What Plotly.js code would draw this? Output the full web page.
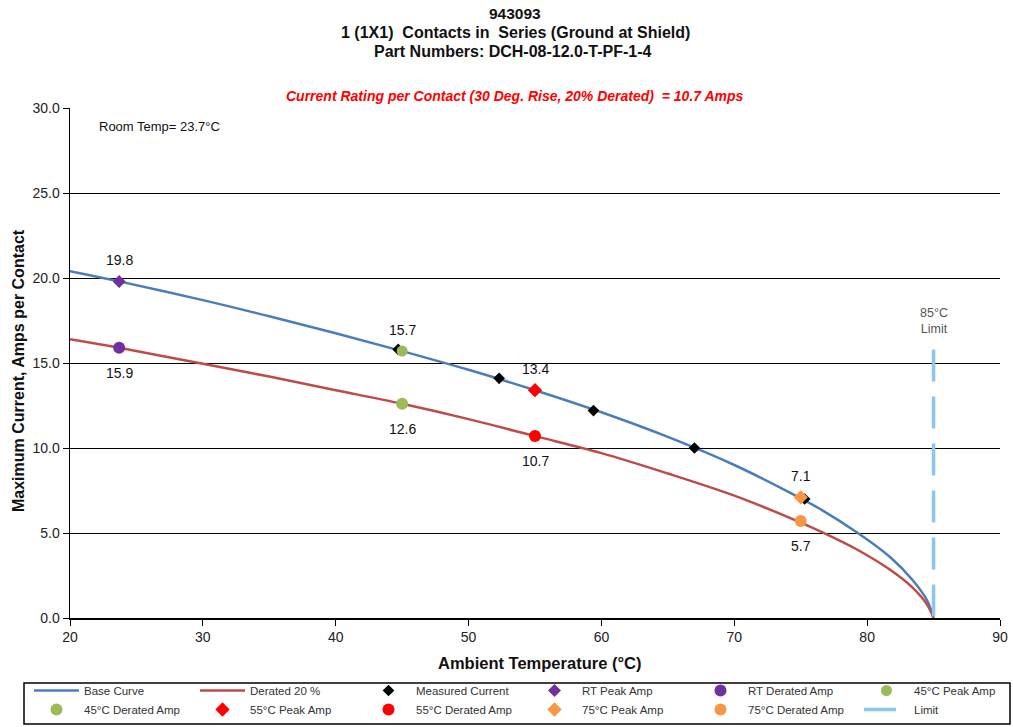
<!DOCTYPE html>
<html><head><meta charset="utf-8">
<script src="https://cdn.plot.ly/plotly-3.0.1.min.js"></script>
<style>body{margin:0;background:#fff}#chart{width:1013px;height:727px}</style>
</head><body><div id="chart"></div>
<script>
// ---- data ----
const curveTemps   = [20, 23.7, 30, 35, 40, 45, 50, 55, 60, 65, 70, 74, 76.6, 79.3, 81.7, 83.4, 84.5, 85];
const baseCurve    = [20.4, 19.8, 18.7, 17.75, 16.75, 15.7, 14.6, 13.4, 12.1, 10.65, 9.0, 7.45, 6.35, 5.0, 3.6, 2.25, 1.05, 0];
const derated20    = [16.4, 15.9, 14.95, 14.2, 13.4, 12.6, 11.7, 10.7, 9.7, 8.5, 7.2, 5.95, 5.05, 4.0, 2.85, 1.8, 0.8, 0];
const measuredT    = [44.7, 52.3, 59.4, 67.0, 75.3];
const measuredAmp  = [15.8, 14.1, 12.2, 10.0, 7.0];
const pointTemps   = [23.7, 45, 55, 75];           // RT, 45°C, 55°C, 75°C
const peakAmps     = [19.8, 15.7, 13.4, 7.1];
const deratedAmps  = [15.9, 12.6, 10.7, 5.7];
const pointNames   = ['RT', '45°C', '55°C', '75°C'];
const limitT       = [85, 85];
const limitAmp     = [15.8, 0];
const xTicks       = [20, 30, 40, 50, 60, 70, 80, 90];
const yTicks       = [0, 5, 10, 15, 20, 25, 30];

// ---- styling ----
const FONT = 'Arial, "Liberation Sans", sans-serif';
const NB = '\u00a0';
const pointColors  = ['#7030A0', '#9BBB59', '#FF0000', '#F79646'];
const peakSymbols  = ['diamond', 'circle', 'diamond', 'diamond'];
const peakSizes    = [10, 11, 11, 11];

const traces = [
  {x: curveTemps, y: baseCurve, name: 'Base Curve', mode: 'lines',
   line: {color: '#4A7EBB', width: 2.5, shape: 'spline', smoothing: 1}},
  {x: curveTemps, y: derated20, name: 'Derated 20 %', mode: 'lines',
   line: {color: '#BE4B48', width: 2.5, shape: 'spline', smoothing: 1}},
  {x: measuredT, y: measuredAmp, name: 'Measured Current', mode: 'markers',
   marker: {symbol: 'diamond', size: 9, color: '#000'}}
];
pointTemps.forEach((t, i) => {
  traces.push({x: [t], y: [peakAmps[i]], name: pointNames[i] + ' Peak Amp', mode: 'markers',
    marker: {symbol: peakSymbols[i], size: peakSizes[i], color: pointColors[i]}});
  traces.push({x: [t], y: [deratedAmps[i]], name: pointNames[i] + ' Derated Amp', mode: 'markers',
    marker: {symbol: 'circle', size: 12, color: pointColors[i]}});
});
traces.push({x: limitT, y: limitAmp, name: 'Limit', mode: 'lines',
  line: {color: '#8EC4F4', width: 3.5, dash: '32px,15px'}});

const annotations = [];
pointTemps.forEach((t, i) => {
  annotations.push({x: t, y: peakAmps[i], text: peakAmps[i].toFixed(1), showarrow: false,
    xanchor: 'center', yshift: 21, font: {size: 14, color: '#111', family: FONT}});
  annotations.push({x: t, y: deratedAmps[i], text: deratedAmps[i].toFixed(1), showarrow: false,
    xanchor: 'center', yshift: -25, font: {size: 14, color: '#111', family: FONT}});
});
const P = (px) => (px - 70) / 930, Q = (py) => (618 - py) / 510;
const paperNote = (px, py, text, size, color, extra) => Object.assign({xref: 'paper', yref: 'paper',
  x: P(px), y: Q(py), xanchor: 'center', yanchor: 'middle', text: text, showarrow: false,
  font: {size: size, color: color, family: FONT}}, extra || {});
annotations.push(
  {x: 85, y: 17.5, xanchor: 'center', text: '85°C<br>Limit', showarrow: false, font: {size: 12.5, color: '#555', family: FONT}},
  {x: 22.0, y: 28.9, xanchor: 'left', text: 'Room Temp= 23.7°C', showarrow: false, font: {size: 13, color: '#111', family: FONT}},
  paperNote(515, 13, '<b>943093</b>', 15.5, '#111'),
  paperNote(515, 32, '<b>1 (1X1) ' + NB + 'Contacts in ' + NB + 'Series (Ground at Shield)</b>', 16, '#111'),
  paperNote(513, 52, '<b>Part Numbers: DCH-08-12.0-T-PF-1-4</b>', 16, '#111'),
  paperNote(515, 96, '<b><i>Current Rating per Contact (30 Deg. Rise, 20% Derated) ' + NB + '= 10.7 Amps</i></b>', 14, '#FF0000'),
  paperNote(539, 663, '<b>Ambient Temperature (°C)</b>', 16.5, '#111'),
  paperNote(18, 371, '<b>Maximum Current, Amps per Contact</b>', 16, '#111', {textangle: -90})
);

const layout = {
  width: 1013, height: 727,
  margin: {l: 70, r: 13, t: 108, b: 109, autoexpand: false},
  paper_bgcolor: '#fff', plot_bgcolor: '#fff',
  font: {family: FONT, size: 13, color: '#222'},
  showlegend: true,
  legend: {orientation: 'h', x: P(29), xanchor: 'left', y: Q(676), yanchor: 'top',
    borderwidth: 0, bgcolor: 'rgba(0,0,0,0)', entrywidth: 106, entrywidthmode: 'pixels',
    font: {size: 11.5, color: '#333', family: FONT}, tracegroupgap: 0, itemwidth: 45},
  shapes: [{type: 'rect', xref: 'paper', yref: 'paper', x0: P(24), x1: P(1010), y0: Q(683), y1: Q(724),
    line: {color: '#000', width: 1.5}, fillcolor: 'rgba(0,0,0,0)', layer: 'below'}],
  xaxis: {range: [20, 90], tickvals: xTicks, ticktext: xTicks.map(String), showgrid: false, zeroline: false,
    showline: true, linecolor: '#000', linewidth: 1.5, ticks: 'outside', ticklen: 6, tickcolor: '#000',
    tickfont: {size: 14, color: '#222'}},
  yaxis: {range: [0, 30], tickvals: yTicks, ticktext: yTicks.map(v => v.toFixed(1)), showgrid: true,
    gridcolor: '#000', gridwidth: 1, zeroline: false, showline: true, linecolor: '#000', linewidth: 1.5,
    ticks: 'outside', ticklen: 6, tickcolor: '#000', tickfont: {size: 14, color: '#222'}},
  annotations: annotations
};

Plotly.newPlot('chart', traces, layout, {displayModeBar: false, staticPlot: true});
</script></body></html>
